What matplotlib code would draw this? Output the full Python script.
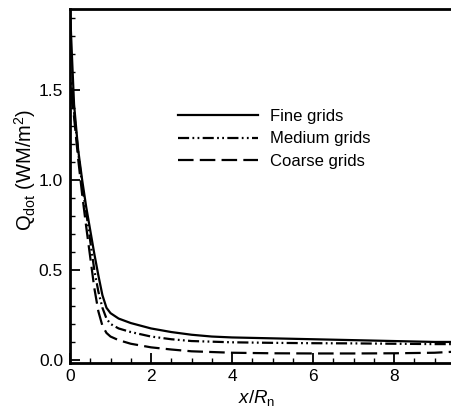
import matplotlib
matplotlib.use("Agg")
import matplotlib.pyplot as plt
from matplotlib.ticker import MultipleLocator, FormatStrFormatter

plt.rcParams['font.family'] = ['Liberation Sans', 'DejaVu Sans']
plt.rcParams['mathtext.fontset'] = 'custom'
plt.rcParams['mathtext.rm'] = 'Liberation Sans'
plt.rcParams['mathtext.it'] = 'Liberation Sans:italic'

# data
fine_x = [0, 0.05, 0.1, 0.2, 0.3, 0.4, 0.5, 0.6, 0.7, 0.8, 0.9, 1.0, 1.2, 1.5,
          2.0, 2.5, 3.0, 3.5, 4.0, 5.0, 6.0, 7.0, 8.0, 9.0, 9.5]
fine_y = [1.95, 1.68, 1.42, 1.17, 1.0, 0.85, 0.72, 0.59, 0.47, 0.36, 0.29, 0.26, 0.23, 0.205,
          0.175, 0.155, 0.14, 0.13, 0.125, 0.12, 0.115, 0.11, 0.105, 0.1, 0.1]

medium_x = [0, 0.03, 0.1, 0.2, 0.3, 0.4, 0.5, 0.6, 0.7, 0.8, 0.9, 1.0, 1.2, 1.5,
            2.0, 2.5, 3.0, 4.0, 5.0, 6.0, 7.0, 8.0, 9.0, 9.5]
medium_y = [1.45, 1.55, 1.38, 1.16, 0.97, 0.82, 0.66, 0.5, 0.38, 0.29, 0.23, 0.2, 0.175, 0.155,
            0.13, 0.115, 0.105, 0.098, 0.095, 0.093, 0.092, 0.09, 0.088, 0.088]

coarse_x = [0, 0.03, 0.1, 0.2, 0.3, 0.4, 0.5, 0.6, 0.7, 0.8, 0.9, 1.0, 1.2, 1.5,
            2.0, 2.5, 3.0, 4.0, 5.0, 6.0, 7.0, 8.0, 9.0, 9.5]
coarse_y = [1.4, 1.5, 1.35, 1.12, 0.92, 0.74, 0.57, 0.4, 0.27, 0.19, 0.15, 0.13, 0.11, 0.09,
            0.07, 0.058, 0.048, 0.04, 0.037, 0.036, 0.036, 0.037, 0.04, 0.046]

labels = ['Fine grids', 'Medium grids', 'Coarse grids']

fig = plt.figure(figsize=(4.52, 4.09), dpi=100)
ax = fig.add_axes([70 / 452, 46 / 409, 382 / 452, 354 / 409])

ax.plot(fine_x, fine_y, color='black', lw=1.6, ls='-', label=labels[0])
ax.plot(medium_x, medium_y, color='black', lw=1.6,
        ls=(0, (5, 1.5, 0.8, 1.5, 0.8, 1.5)), label=labels[1])
ax.plot(coarse_x, coarse_y, color='black', lw=1.6, ls=(0, (7, 2.8)), label=labels[2])

ax.set_xlim(0, 9.43)
ax.set_ylim(-0.017, 1.95)

ax.xaxis.set_major_locator(MultipleLocator(2))
ax.xaxis.set_minor_locator(MultipleLocator(0.5))
ax.yaxis.set_major_locator(MultipleLocator(0.5))
ax.yaxis.set_minor_locator(MultipleLocator(0.1))
ax.yaxis.set_major_formatter(FormatStrFormatter('%.1f'))

for s in ['left', 'top', 'bottom']:
    ax.spines[s].set_linewidth(2.0)
ax.spines['right'].set_visible(False)

ax.tick_params(which='both', direction='in', top=False, right=False, labelsize=12.5)
ax.tick_params(which='major', length=7, width=1.3)
ax.tick_params(which='minor', length=3.5, width=1.0)
ax.tick_params(axis='y', pad=5)
ax.tick_params(axis='x', pad=4)

ax.set_xlabel('$x/R_{\\rm n}$', fontsize=13.5)
ax.set_ylabel('$\\mathrm{Q}_{\\rm dot}$ (WM/m$^2$)', fontsize=14.5)
ax.xaxis.set_label_coords(187 / 382, -25 / 354)
ax.yaxis.set_label_coords(-32 / 382, 193 / 354)

ax.legend(frameon=False, fontsize=12, loc='upper left',
          bbox_to_anchor=((178 - 70) / 382, (363 - 109) / 354),
          borderpad=0, borderaxespad=0, handlelength=4.8, handletextpad=0.7,
          labelspacing=0.45)

fig.savefig('out.png', dpi=100)
